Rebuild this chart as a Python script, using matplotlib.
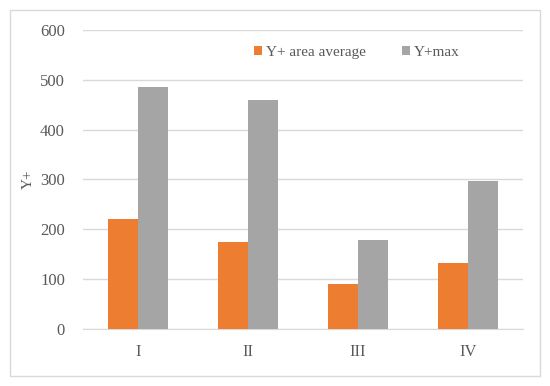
import matplotlib.pyplot as plt
import matplotlib.patches as mpatches
import numpy as np

categories = ["I", "II", "III", "IV"]
yplus_avg = [220, 175, 90, 133]
yplus_max = [485, 460, 178, 296]

plt.rcParams['font.family'] = ['Liberation Serif', 'DejaVu Serif']
txt = "#595959"

fig = plt.figure(figsize=(5.5, 3.86), dpi=100)
ax = fig.add_axes([0.151, 0.148, 0.80, 0.774])

# outer chart frame
fig.patches.append(mpatches.Rectangle((10 / 550, 10 / 386), 530 / 550, 366 / 386,
                                      transform=fig.transFigure, fill=False,
                                      edgecolor="#D9D9D9", linewidth=1))

x = np.arange(len(categories))
w = 0.2727
ax.bar(x - w / 2, yplus_avg, w, color="#ED7D31", label="Y+ area average", zorder=3)
ax.bar(x + w / 2, yplus_max, w, color="#A5A5A5", label="Y+max", zorder=3)

ax.set_ylim(0, 600)
ax.set_xlim(-0.5, 3.5)
ax.set_yticks(range(0, 601, 100))
ax.set_xticks(x)
ax.set_xticklabels(categories)
ax.yaxis.grid(True, color="#D9D9D9", linewidth=1, zorder=0)
for s in ["top", "right", "left"]:
    ax.spines[s].set_visible(False)
ax.spines["bottom"].set_color("#D9D9D9")
ax.tick_params(axis="both", length=0, labelsize=12, colors=txt)
ax.tick_params(axis="y", pad=13)
ax.tick_params(axis="x", pad=11)
ax.set_ylabel("Y+", fontsize=11, color=txt, labelpad=4)

ax.legend(loc="center right", bbox_to_anchor=(0.887, 0.926), ncol=2, frameon=False,
          fontsize=11, labelcolor=txt, handlelength=0.5, handleheight=0.5,
          handletextpad=0.25, columnspacing=2.4)

fig.savefig("out.png", dpi=100)
